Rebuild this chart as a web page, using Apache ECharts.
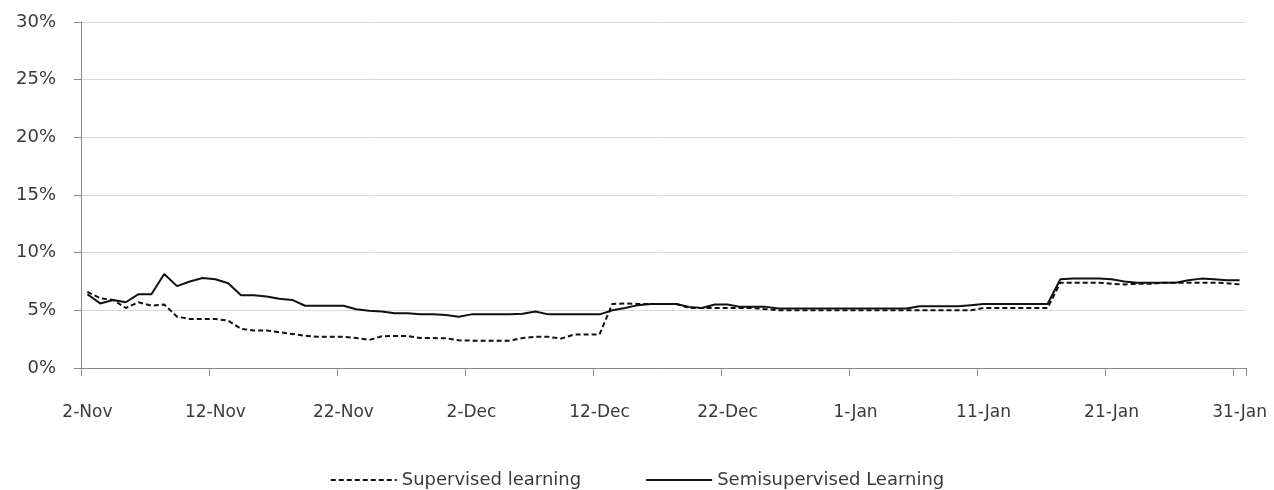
<!DOCTYPE html>
<html>
<head>
<meta charset="utf-8">
<script src="https://cdn.jsdelivr.net/npm/echarts@6/dist/echarts.min.js"></script>
<style>
html,body{margin:0;padding:0;background:#fff;}
#chart{width:1274px;height:490px;}
</style>
</head>
<body>
<div id="chart"></div>
<script>
// Daily categories 2-Nov .. 31-Jan
const months = ['Nov','Dec','Jan'];
const monthDays = [30,31,31];
const startDay = 2;
const categories = [];
(function(){
  for (let m = 0; m < months.length; m++) {
    for (let d = (m === 0 ? startDay : 1); d <= monthDays[m]; d++) {
      categories.push(d + '-' + months[m]);
    }
  }
})();

const yTicks = [0, 5, 10, 15, 20, 25, 30];

const supervised = [
  6.6,6.05,5.9,5.2,5.7,5.4,5.5,4.45,4.25,4.25,
  4.25,4.1,3.4,3.25,3.25,3.1,2.95,2.8,2.7,2.7,
  2.7,2.6,2.43,2.75,2.78,2.78,2.6,2.6,2.57,2.4,
  2.37,2.37,2.37,2.37,2.6,2.7,2.7,2.55,2.9,2.9,
  2.9,5.55,5.6,5.55,5.55,5.55,5.55,5.2,5.2,5.2,
  5.2,5.2,5.2,5.1,5.0,5.0,5.0,5.0,5.0,5.0,
  5.0,5.0,5.0,5.0,5.0,5.0,5.0,5.0,5.0,5.0,
  5.2,5.2,5.2,5.2,5.2,5.2,7.4,7.4,7.4,7.4,
  7.3,7.25,7.3,7.3,7.4,7.4,7.4,7.4,7.4,7.35,
  7.25
];

const semisupervised = [
  6.4,5.6,5.9,5.7,6.4,6.4,8.15,7.1,7.5,7.8,
  7.7,7.35,6.3,6.3,6.2,6.0,5.9,5.4,5.4,5.4,
  5.4,5.1,4.97,4.9,4.75,4.75,4.65,4.65,4.6,4.45,
  4.65,4.65,4.65,4.65,4.7,4.9,4.65,4.65,4.65,4.65,
  4.65,5.0,5.2,5.45,5.55,5.55,5.55,5.3,5.2,5.5,
  5.5,5.3,5.3,5.3,5.15,5.15,5.15,5.15,5.15,5.15,
  5.15,5.15,5.15,5.15,5.15,5.35,5.35,5.35,5.35,5.45,
  5.55,5.55,5.55,5.55,5.55,5.55,7.7,7.75,7.75,7.75,
  7.7,7.5,7.4,7.4,7.4,7.4,7.6,7.75,7.7,7.6,
  7.6
];

const chart = echarts.init(document.getElementById('chart'));
const font = 'DejaVu Sans';
chart.setOption({
  animation: false,
  backgroundColor: '#ffffff',
  grid: { left: 81, right: 28, top: 22, bottom: 122, containLabel: false },
  xAxis: {
    type: 'category',
    data: categories,
    boundaryGap: true,
    axisLine: { show: true, lineStyle: { color: '#868686', width: 1 } },
    axisTick: { show: true, interval: 9, length: 8, lineStyle: { color: '#868686' } },
    axisLabel: { interval: 9, margin: 36, color: '#3a3a3a', fontFamily: font, fontSize: 17 },
    splitLine: { show: false }
  },
  yAxis: {
    type: 'value',
    min: yTicks[0],
    max: yTicks[yTicks.length - 1],
    interval: 5,
    axisLine: { show: true, lineStyle: { color: '#868686', width: 1 } },
    axisTick: { show: true, length: 7, lineStyle: { color: '#868686' } },
    axisLabel: { margin: 25, color: '#3a3a3a', fontFamily: font, fontSize: 18,
      formatter: v => v + '%' },
    splitLine: { show: true, lineStyle: { color: '#d9d9d9', width: 1 } }
  },
  legend: {
    bottom: -4,
    left: 'center',
    itemWidth: 66,
    itemHeight: 12,
    itemGap: 64,
    itemStyle: { opacity: 0 },
    textStyle: { color: '#3a3a3a', fontFamily: font, fontSize: 18 },
    data: ['Supervised learning', 'Semisupervised Learning']
  },
  series: [
    {
      name: 'Supervised learning',
      type: 'line',
      data: supervised,
      symbol: 'none',
      smooth: false,
      lineStyle: { color: '#111', width: 2, type: [5, 3] },
      itemStyle: { color: '#111' },
      z: 3
    },
    {
      name: 'Semisupervised Learning',
      type: 'line',
      data: semisupervised,
      symbol: 'none',
      smooth: false,
      lineStyle: { color: '#111', width: 2, type: 'solid' },
      itemStyle: { color: '#111' },
      z: 2
    }
  ]
});
</script>
</body>
</html>
